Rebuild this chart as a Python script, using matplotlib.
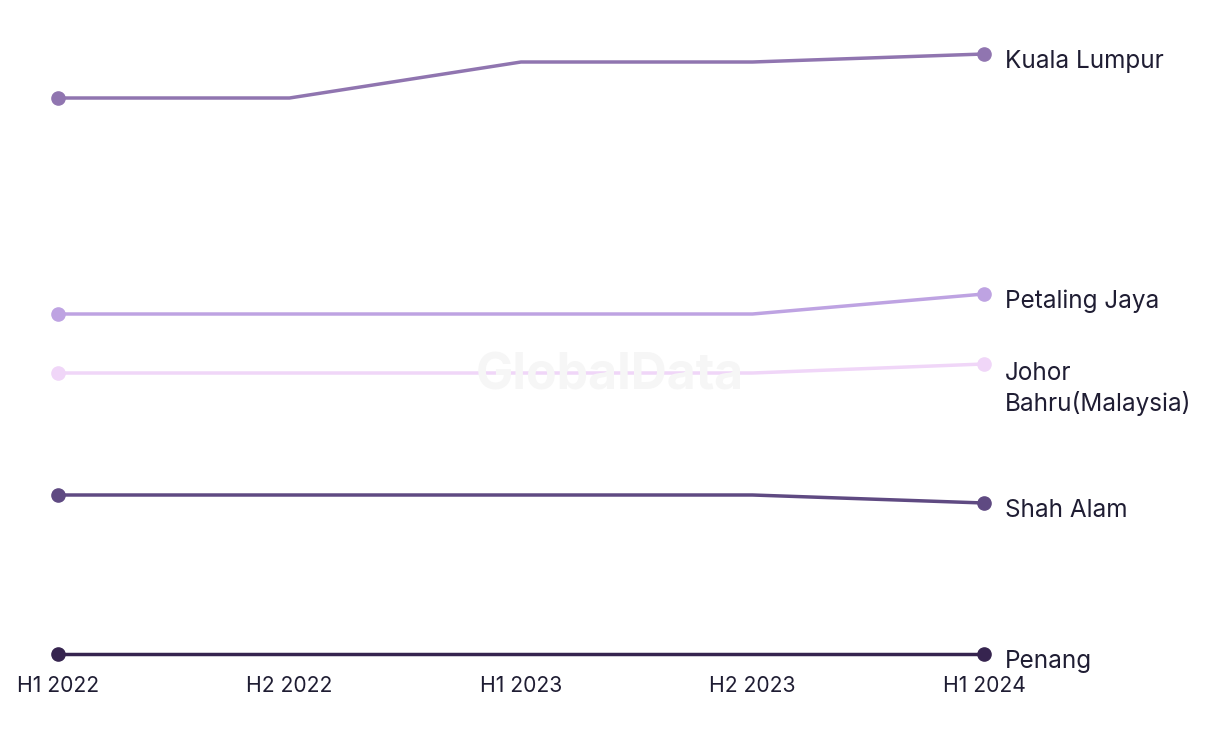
import matplotlib.pyplot as plt
import numpy as np

plt.rcParams['font.family'] = ['Inter', 'DejaVu Sans']

periodos = ["H1 2022", "H2 2022", "H1 2023", "H2 2023", "H1 2024"]

kuala_lumpur = [55.6, 55.6, 59.2, 59.2, 60.0]
petaling_jaya = [34.0, 34.0, 34.0, 34.0, 36.0]
johor_bahru = [28.1, 28.1, 28.1, 28.1, 29.0]
shah_alam = [15.9, 15.9, 15.9, 15.9, 15.1]
penang = [0.0, 0.0, 0.0, 0.0, 0.0]

ciudades = ["Kuala Lumpur", "Petaling Jaya", "Johor\nBahru(Malaysia)", "Shah Alam", "Penang"]
series = [kuala_lumpur, petaling_jaya, johor_bahru, shah_alam, penang]
colores = ["#9075b0", "#bea3e2", "#f0d6f8", "#5f4a82", "#36244f"]

texto_color = "#1f1d33"

fig = plt.figure(figsize=(12.2, 7.44), dpi=100)
ax = fig.add_axes([58 / 1220, 90 / 744, 926 / 1220, 600 / 744])

x = np.arange(len(periodos))

# marca de agua
fig.text(0.5, (744 - 390) / 744, "GlobalData", ha='center', va='baseline',
         fontsize=36, fontweight='bold', color="#f6f6f6", zorder=0)

for valores, nombre, color in zip(series, ciudades, colores):
    ax.plot(x, valores, color=color, linewidth=2.5, zorder=2, clip_on=False)
    ax.plot([x[0], x[-1]], [valores[0], valores[-1]], 'o', color=color,
            markersize=9.5, zorder=3, clip_on=False)
    # baseline = ultima linea, bajar por cada linea extra
    extra = nombre.count("\n") * 24
    ax.annotate(nombre, (x[-1], valores[-1]), xytext=(15, -10 - extra), textcoords='offset points',
                ha='left', va='baseline', fontsize=17.5, color=texto_color, linespacing=1.33)

ax.set_xlim(0, 4)
ax.set_ylim(0, 60)
ax.set_xticks(x)
ax.set_xticklabels(periodos, fontsize=15.2, color=texto_color)
ax.set_yticks([])
ax.tick_params(axis='x', length=0, pad=16)
for lado in ['top', 'right', 'left', 'bottom']:
    ax.spines[lado].set_visible(False)

plt.savefig("out.png", dpi=100, facecolor="white")
plt.close()
